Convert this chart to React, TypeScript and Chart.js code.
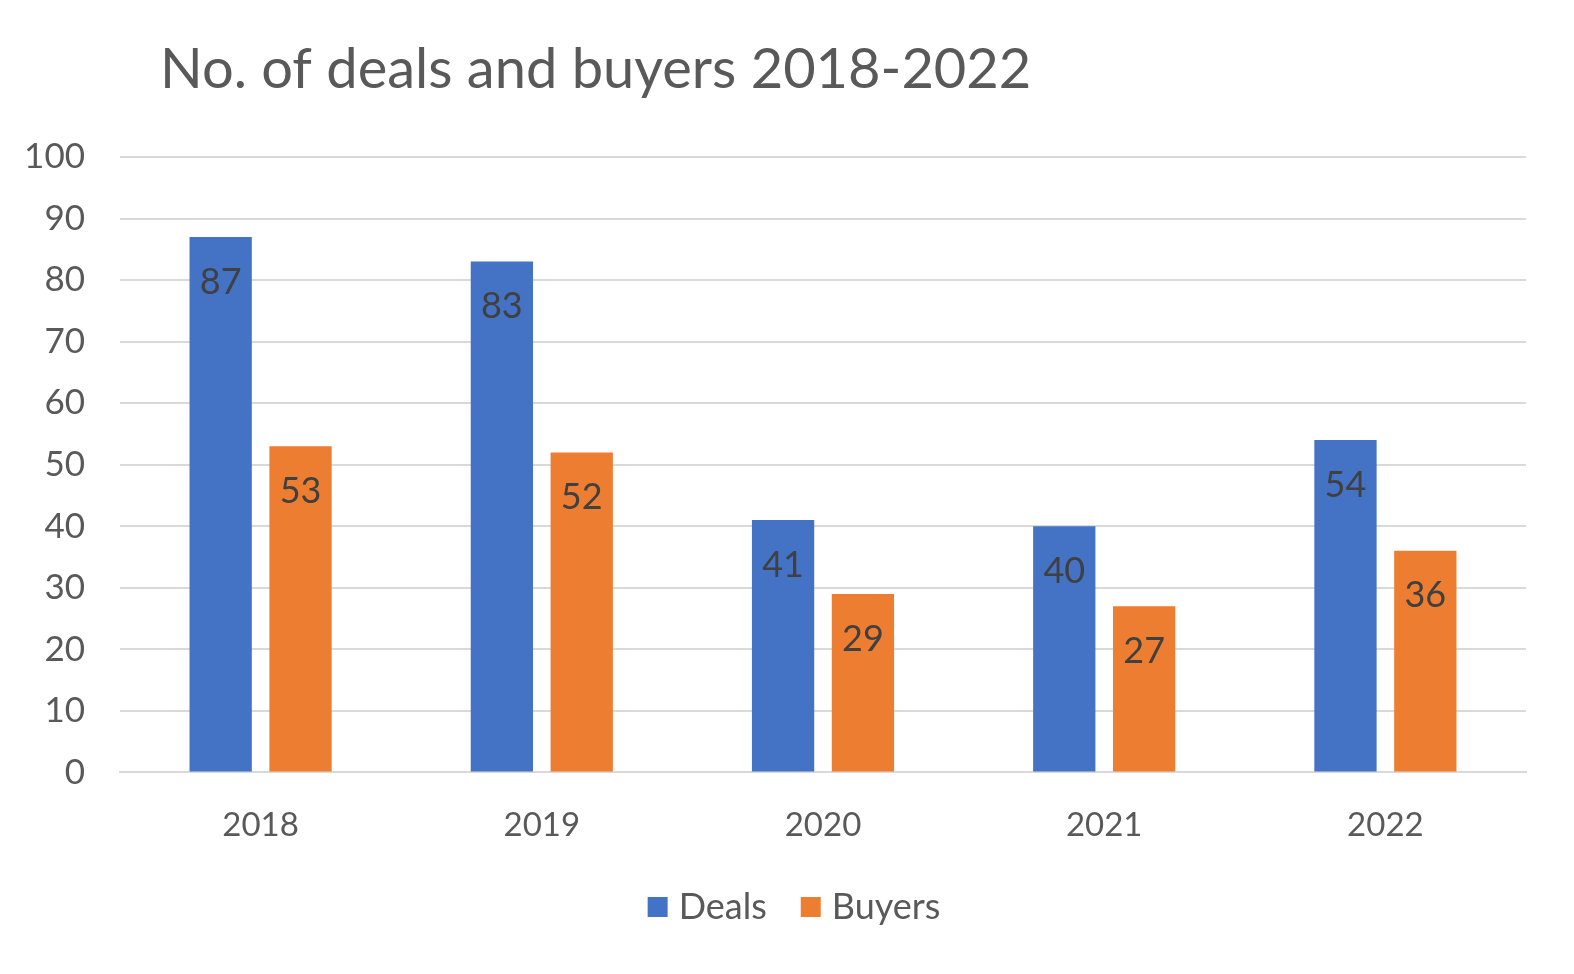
import { useRef, useEffect } from 'react';
import { Chart, registerables } from 'chart.js';

Chart.register(...registerables);

const years = ['2018', '2019', '2020', '2021', '2022'];
const deals = [87, 83, 41, 40, 54];
const buyers = [53, 52, 29, 27, 36];

const FONT = 'Lato, "Open Sans", sans-serif';

// bar value labels drawn just below each bar's top, the title and an Excel-like legend
const labelsPlugin = {
    id: 'valueLabels',
    afterDatasetsDraw(chart: any) {
        const ctx = chart.ctx;
        ctx.save();
        ctx.font = `36px ${FONT}`;
        ctx.fillStyle = '#404040';
        ctx.textAlign = 'center';
        ctx.textBaseline = 'middle';
        chart.data.datasets.forEach((ds: any, i: number) => {
            chart.getDatasetMeta(i).data.forEach((bar: any, j: number) => {
                ctx.fillText(String(ds.data[j]), bar.x, bar.y + 45);
            });
        });

        ctx.font = `56px ${FONT}`;
        ctx.fillStyle = '#595959';
        ctx.textAlign = 'left';
        ctx.textBaseline = 'alphabetic';
        ctx.fillText('No. of deals and buyers 2018-2022', 160, 88);

        // legend
        ctx.font = `36px ${FONT}`;
        ctx.textBaseline = 'middle';
        const box = 20, gap = 11, spacing = 34, cy = 907;
        const items = chart.data.datasets.map((ds: any) => ({ label: ds.label, color: ds.backgroundColor, w: ctx.measureText(ds.label).width }));
        const total = items.reduce((s: number, it: any) => s + box + gap + it.w, 0) + spacing * (items.length - 1);
        let x = 794 - total / 2;
        items.forEach((it: any) => {
            ctx.fillStyle = it.color;
            ctx.fillRect(x, cy - box / 2, box, box);
            ctx.fillStyle = '#595959';
            ctx.fillText(it.label, x + box + gap, cy);
            x += box + gap + it.w + spacing;
        });
        ctx.restore();
    }
};

const App = () => {
    const canvasRef = useRef(null);
    const chartRef = useRef(null);

    useEffect(() => {
        document.body.style.margin = '0';
        if (!canvasRef.current) return;
        if (chartRef.current) chartRef.current.destroy();

        chartRef.current = new Chart(canvasRef.current, {
            type: 'bar',
            data: {
                labels: years,
                datasets: [
                    { label: 'Deals', data: deals, backgroundColor: '#4472C4' },
                    { label: 'Buyers', data: buyers, backgroundColor: '#ED7D31' }
                ]
            },
            options: {
                animation: false,
                responsive: false,
                maintainAspectRatio: false,
                datasets: { bar: { categoryPercentage: 0.568, barPercentage: 0.78 } },
                layout: { padding: { top: 157, left: 20, right: 48, bottom: 104 } },
                plugins: {
                    legend: { display: false },
                    tooltip: { enabled: false }
                },
                scales: {
                    x: {
                        grid: { display: false },
                        border: { color: '#d9d9d9', width: 2 },
                        ticks: { font: { size: 33, family: FONT }, color: '#595959', padding: 25 }
                    },
                    y: {
                        min: 0,
                        max: 100,
                        afterFit: (s: any) => { s.width = 100; },
                        grid: { color: '#d9d9d9', lineWidth: 2, drawTicks: false },
                        border: { display: false },
                        ticks: { stepSize: 10, font: { size: 35, family: FONT }, color: '#595959', padding: 35 }
                    }
                }
            },
            plugins: [labelsPlugin]
        });

        return () => { if (chartRef.current) chartRef.current.destroy(); };
    }, []);

    return (
        <div style={{ width: 1574, height: 974, background: '#fff' }}>
            <canvas ref={canvasRef} width={1574} height={974}></canvas>
        </div>
    );
};

export default App;
